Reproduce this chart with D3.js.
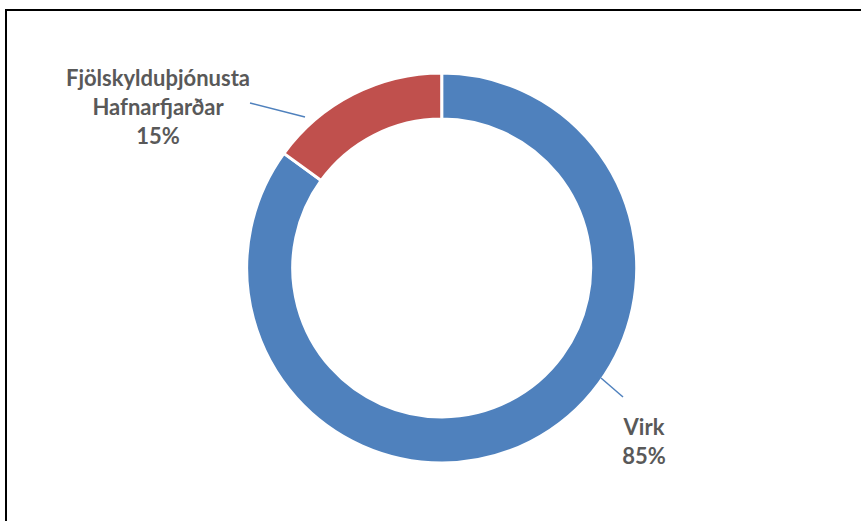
<!DOCTYPE html>
<html><head><meta charset="utf-8">
<script src="https://cdn.jsdelivr.net/npm/d3@7"></script>
<style>html,body{margin:0;padding:0;background:#fff;overflow:hidden}</style>
</head><body>
<svg id="c" width="861" height="521"></svg>
<script>
const categories = ["Virk", "Fjölskylduþjónusta Hafnarfjarðar"];
const values = [85, 15];
const pctLabels = ["85%", "15%"];
const colors = ["#4F81BD", "#C0504D"];

const svg = d3.select("#c");
svg.append("rect").attr("x", 6).attr("y", 10).attr("width", 900).attr("height", 600)
  .attr("fill", "#fff").attr("stroke", "#000").attr("stroke-width", 2);

const cx = 441.7, cy = 268, R = 195, r = 149;
const g = svg.append("g").attr("transform", `translate(${cx},${cy})`);
// Excel: first slice starts at 12 o'clock going clockwise
const pie = d3.pie().sort(null).value(d => d);
const arcs = pie(values);
const arc = d3.arc().innerRadius(r).outerRadius(R);
g.selectAll("path").data(arcs).enter().append("path")
  .attr("d", arc).attr("fill", (d, i) => colors[i])
  .attr("stroke", "#fff").attr("stroke-width", 3).attr("stroke-linejoin", "miter");

// leader lines
const leaders = [
  [[601, 378], [623, 397]],
  [[305, 117], [250, 103]]
];
svg.selectAll("line.l").data(leaders).enter().append("line")
  .attr("x1", d => d[0][0]).attr("y1", d => d[0][1])
  .attr("x2", d => d[1][0]).attr("y2", d => d[1][1])
  .attr("stroke", "#4F81BD").attr("stroke-width", 1.5);

// labels
const labelLines = [
  { x: 644, ys: [435, 464], lines: [categories[0], pctLabels[0]] },
  { x: 158, ys: [86, 115, 144], lines: ["Fjölskylduþjónusta", "Hafnarfjarðar", pctLabels[1]] }
];
labelLines.forEach(L => {
  L.lines.forEach((t, i) => {
    svg.append("text").attr("x", L.x).attr("y", L.ys[i])
      .attr("text-anchor", "middle")
      .attr("font-family", "Lato, 'Open Sans', sans-serif")
      .attr("font-weight", "bold").attr("font-size", 22)
      .attr("fill", "#595959").text(t);
  });
});
</script>
</body></html>
